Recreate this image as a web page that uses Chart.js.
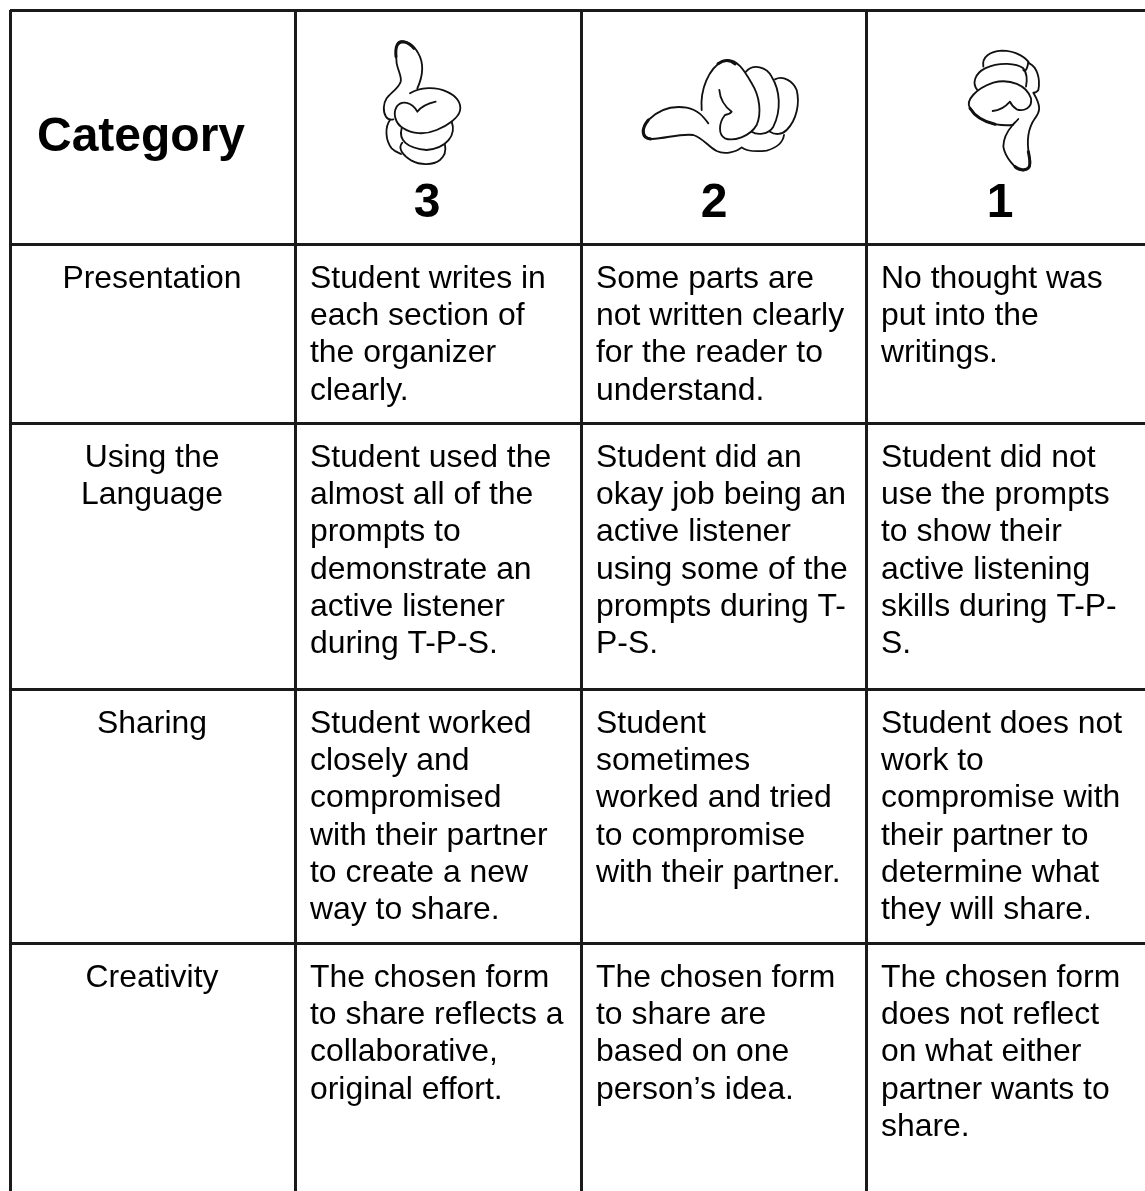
<!DOCTYPE html>
<html><head><meta charset="utf-8">
<style>html,body{margin:0;padding:0;background:#fff;overflow:hidden}canvas{display:block}</style>
<script src="https://cdn.jsdelivr.net/npm/chart.js@4/dist/chart.umd.js"></script>
</head><body><canvas id="c" width="1145" height="1191"></canvas>
<script>
const headerTitle = "Category";
const scoreLabels = ["3", "2", "1"];
const categories = [["Presentation"], ["Using the", "Language"], ["Sharing"], ["Creativity"]];
const score3Text = [
  ["Student writes in", "each section of", "the organizer", "clearly."],
  ["Student used the", "almost all of the", "prompts to", "demonstrate an", "active listener", "during T-P-S."],
  ["Student worked", "closely and", "compromised", "with their partner", "to create a new", "way to share."],
  ["The chosen form", "to share reflects a", "collaborative,", "original effort."]
];
const score2Text = [
  ["Some parts are", "not written clearly", "for the reader to", "understand."],
  ["Student did an", "okay job being an", "active listener", "using some of the", "prompts during T-", "P-S."],
  ["Student", "sometimes", "worked and tried", "to compromise", "with their partner."],
  ["The chosen form", "to share are", "based on one", "person\u2019s idea."]
];
const score1Text = [
  ["No thought was", "put into the", "writings."],
  ["Student did not", "use the prompts", "to show their", "active listening", "skills during T-P-", "S."],
  ["Student does not", "work to", "compromise with", "their partner to", "determine what", "they will share."],
  ["The chosen form", "does not reflect", "on what either", "partner wants to", "share."]
];
const columnEdges = [10, 295, 581, 866];
const rowEdges = [10, 244, 423, 689, 943];

const LH = 37.35, FIRST = 43.5, PAD = 15;
const INK = "#000";

const handPaths = {
  up: {ox:340, oy:20, thin:[
    "M232 205C250 165 252 130 235 100C222 75 200 62 180 64C168 68 166 85 170 130C175 155 186 170 182 185C176 205 150 220 140 235C130 250 128 275 138 290C143 298 150 300 160 298",
    "M210 220C240 200 290 200 320 215C350 228 365 250 360 272C355 295 320 318 290 330C255 345 215 342 190 325C165 310 158 280 170 260C185 240 215 245 232 275C245 258 265 250 287 245",
    "M185 325C175 360 200 385 260 390C320 385 350 345 335 305",
    "M187 368C172 385 188 405 215 422C240 436 280 436 300 420C318 405 318 390 315 375",
    "M150 300C135 320 135 360 155 385C165 395 175 398 183 402"
  ], thick:["M168 110C165 80 172 65 190 65C205 68 215 75 222 85"]},
  side: {ox:630, oy:40, thin:[
    "M235 250C220 230 205 210 170 203C120 195 80 215 55 240C30 265 40 295 65 297C110 295 150 280 190 285C220 295 235 320 260 333C285 345 320 335 335 322C350 335 380 335 410 332C450 320 460 300 462 285",
    "M215 210C210 150 235 85 280 62C320 50 345 95 365 130C390 170 395 220 380 255C360 290 310 305 285 295C265 285 265 250 285 225C300 222 305 215 305 215C285 200 270 175 268 150",
    "M348 95C370 70 410 80 425 110C450 150 455 210 430 260C415 285 380 285 365 275",
    "M435 118C460 105 490 125 500 150C510 190 500 240 470 270C455 285 435 285 420 275"
  ], thick:["M62 297C35 295 32 268 55 240", "M264 71C280 60 300 58 315 72"]},
  down: {ox:920, oy:20, thin:[
    "M190 140C185 110 210 95 245 92C290 92 320 115 328 130C350 140 362 175 355 210C350 218 345 218 340 218C365 260 360 275 345 295C320 330 320 370 328 410C335 435 330 445 310 452C285 450 255 410 250 380C250 350 265 330 278 315",
    "M278 315C220 320 170 300 150 265C135 240 170 205 220 188C270 175 320 195 333 235C338 265 310 275 290 268C275 258 270 245 270 245C255 262 235 272 218 273",
    "M172 210C155 190 165 160 195 145C240 125 290 130 310 145C325 165 320 190 318 200",
    "M325 125C322 150 315 155 310 150",
    "M295 297C285 308 280 312 278 315"
  ], thick:["M150 265C165 290 190 305 225 313", "M285 440C295 450 320 455 328 440C332 425 328 410 325 395"]}
};

function drawHand(ctx, hand) {
  ctx.save();
  ctx.translate(hand.ox, hand.oy);
  ctx.scale(1/3, 1/3);
  ctx.strokeStyle = "#111"; ctx.lineCap = "round"; ctx.lineJoin = "round";
  ctx.lineWidth = 5.5;
  hand.thin.forEach(p => ctx.stroke(new Path2D(p)));
  ctx.lineWidth = 9;
  hand.thick.forEach(p => ctx.stroke(new Path2D(p)));
  ctx.restore();
}

const tablePlugin = {
  id: "tableText",
  afterDatasetsDraw(chart) {
    const {ctx, scales:{x, y}} = chart;
    ctx.save();
    ctx.fillStyle = INK;
    ctx.textBaseline = "alphabetic";
    ctx.font = "bold 48px 'Liberation Sans', Arial, sans-serif";
    ctx.textAlign = "center";
    ctx.fillText(headerTitle, x.getPixelForValue(141), y.getPixelForValue(151));
    const scoreX = [427, 714, 1000];
    scoreLabels.forEach((s, i) => ctx.fillText(s, x.getPixelForValue(scoreX[i]), y.getPixelForValue(rowEdges[1]-27)));
    ctx.font = "31.9px 'Liberation Sans', Arial, sans-serif";
    categories.forEach((lines, r) => {
      const top = rowEdges[r+1] + FIRST;
      ctx.textAlign = "center";
      lines.forEach((t, k) => ctx.fillText(t, x.getPixelForValue(152), y.getPixelForValue(top + k*LH)));
      ctx.textAlign = "left";
      [score3Text, score2Text, score1Text].forEach((col, c) => {
        col[r].forEach((t, k) => ctx.fillText(t, x.getPixelForValue(columnEdges[c+1] + PAD), y.getPixelForValue(top + k*LH)));
      });
    });
    ctx.restore();
    drawHand(ctx, handPaths.up);
    drawHand(ctx, handPaths.side);
    drawHand(ctx, handPaths.down);
  }
};

const gridOpts = {color:"#1a1a1a", lineWidth:3, drawTicks:false};
new Chart(document.getElementById("c"), {
  type: "scatter",
  data: {datasets:[{data:[], pointRadius:0}]},
  options: {
    responsive:false, animation:false,
    layout:{padding:{left:10, top:10, right:0, bottom:0}},
    plugins:{legend:{display:false}, tooltip:{enabled:false}, title:{display:false}},
    scales:{
      x:{type:"linear", min:10, max:1145, grid:gridOpts, border:{display:false}, ticks:{display:false},
         afterBuildTicks(s){ s.ticks = columnEdges.map(v=>({value:v})); }},
      y:{type:"linear", min:10, max:1191, reverse:true, grid:gridOpts, border:{display:false}, ticks:{display:false},
         afterBuildTicks(s){ s.ticks = rowEdges.map(v=>({value:v})); }}
    }
  },
  plugins:[tablePlugin]
});
</script></body></html>
